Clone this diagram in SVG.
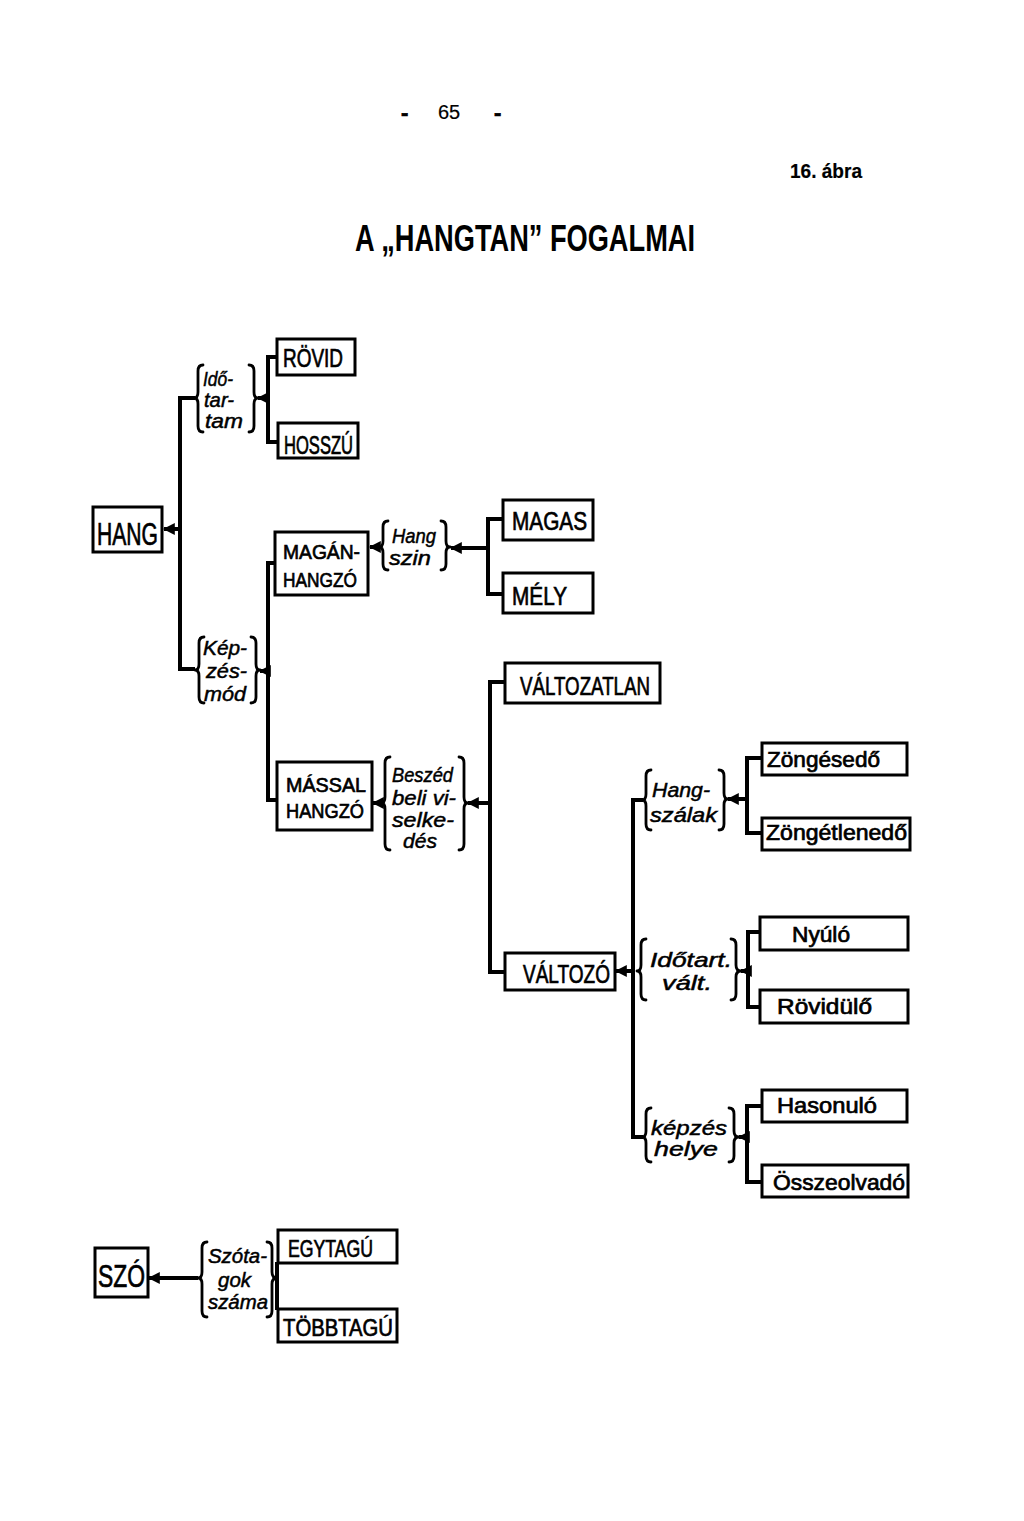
<svg xmlns="http://www.w3.org/2000/svg" width="1024" height="1521" viewBox="0 0 1024 1521">
<style>
.bx{fill:#fff;stroke:#000;stroke-width:3}
.ln{fill:none;stroke:#000;stroke-width:4}
.br{fill:none;stroke:#000;stroke-width:2.8;stroke-linecap:round;stroke-linejoin:round}
.t{font-family:"Liberation Sans",Arial,sans-serif;fill:#000;stroke:#000;stroke-width:0.7}
.it{font-family:"Liberation Sans",Arial,sans-serif;font-style:italic;fill:#000;stroke:#000;stroke-width:0.5;font-size:21px}
</style>
<defs>
<marker id="ah" markerUnits="userSpaceOnUse" markerWidth="12" markerHeight="12" viewBox="0 0 10 10" refX="9" refY="5" orient="auto">
<path d="M0,0 L10,5 L0,10 z" fill="#000"/>
</marker>
</defs>
<rect width="1024" height="1521" fill="#fff"/>

<g id="header">
<text class="t" x="401" y="120" font-size="22" font-weight="bold">-</text>
<text class="t" x="438" y="119" font-size="20" style="stroke-width:0.2">65</text>
<text class="t" x="494" y="120" font-size="22" font-weight="bold">-</text>
<text class="t" x="790" y="178" font-size="21" font-weight="bold" style="stroke-width:0.2" textLength="72" lengthAdjust="spacingAndGlyphs">16. ábra</text>
<text class="t" x="355" y="251" font-size="36" font-weight="bold" style="stroke-width:0" textLength="340" lengthAdjust="spacingAndGlyphs">A „HANGTAN” FOGALMAI</text>
</g>

<g id="connectors">
<path class="ln" d="M195,398 H180 V669 H195"/>
<line class="ln" x1="180" y1="529" x2="164" y2="529" marker-end="url(#ah)"/>
<path class="ln" d="M277,357 H268 V442 H278"/>
<line class="ln" x1="268" y1="398" x2="258" y2="398" marker-end="url(#ah)"/>
<path class="ln" d="M275,563 H268 V800 H277"/>
<line class="ln" x1="268" y1="671" x2="260" y2="671" marker-end="url(#ah)"/>
<line class="ln" x1="380" y1="547" x2="370" y2="547" marker-end="url(#ah)"/>
<path class="ln" d="M503,519 H488 V594 H503"/>
<line class="ln" x1="488" y1="548" x2="451" y2="548" marker-end="url(#ah)"/>
<line class="ln" x1="382" y1="803" x2="373" y2="803" marker-end="url(#ah)"/>
<path class="ln" d="M505,682 H490 V972 H505"/>
<line class="ln" x1="490" y1="803" x2="468" y2="803" marker-end="url(#ah)"/>
<path class="ln" d="M643,800 H633 V1137 H643"/>
<line class="ln" x1="633" y1="971" x2="616" y2="971" marker-end="url(#ah)"/>
<path class="ln" d="M762,758 H747 V833 H762"/>
<line class="ln" x1="747" y1="799" x2="728" y2="799" marker-end="url(#ah)"/>
<path class="ln" d="M760,932 H748 V1007 H760"/>
<line class="ln" x1="748" y1="971" x2="741" y2="971" marker-end="url(#ah)"/>
<path class="ln" d="M762,1106 H747 V1182 H762"/>
<line class="ln" x1="747" y1="1137" x2="739" y2="1137" marker-end="url(#ah)"/>
<line class="ln" x1="198" y1="1278" x2="149" y2="1278" marker-end="url(#ah)"/>
<line class="ln" x1="277" y1="1262" x2="277" y2="1310"/>
</g>

<g id="braces">
<path class="br" d="M203,365 Q198,365 198,371 V392 Q198,398 194,398 Q198,398 198,404 V426 Q198,432 203,432"/>
<path class="br" d="M249,365 Q254,365 254,371 V392 Q254,398 258,398 Q254,398 254,404 V426 Q254,432 249,432"/>
<path class="br" d="M204,637 Q199,637 199,643 V664 Q199,670 195,670 Q199,670 199,676 V697 Q199,703 204,703"/>
<path class="br" d="M251,637 Q256,637 256,643 V664 Q256,670 260,670 Q256,670 256,676 V697 Q256,703 251,703"/>
<path class="br" d="M388,521 Q383,521 383,527 V541 Q383,547 379,547 Q383,547 383,553 V564 Q383,570 388,570"/>
<path class="br" d="M441,521 Q446,521 446,527 V541 Q446,547 450,547 Q446,547 446,553 V564 Q446,570 441,570"/>
<path class="br" d="M390,757 Q385,757 385,763 V797 Q385,803 381,803 Q385,803 385,809 V844 Q385,850 390,850"/>
<path class="br" d="M459,757 Q464,757 464,763 V797 Q464,803 468,803 Q464,803 464,809 V844 Q464,850 459,850"/>
<path class="br" d="M651,770 Q646,770 646,776 V794 Q646,800 642,800 Q646,800 646,806 V824 Q646,830 651,830"/>
<path class="br" d="M719,770 Q724,770 724,776 V793 Q724,799 728,799 Q724,799 724,805 V824 Q724,830 719,830"/>
<path class="br" d="M646,939 Q641,939 641,945 V965 Q641,971 637,971 Q641,971 641,977 V994 Q641,1000 646,1000"/>
<path class="br" d="M731,939 Q736,939 736,945 V965 Q736,971 741,971 Q736,971 736,977 V994 Q736,1000 731,1000"/>
<path class="br" d="M651,1108 Q646,1108 646,1114 V1131 Q646,1137 642,1137 Q646,1137 646,1143 V1156 Q646,1162 651,1162"/>
<path class="br" d="M729,1108 Q734,1108 734,1114 V1131 Q734,1137 739,1137 Q734,1137 734,1143 V1156 Q734,1162 729,1162"/>
<path class="br" d="M207,1242 Q202,1242 202,1248 V1272 Q202,1278 198,1278 Q202,1278 202,1284 V1311 Q202,1317 207,1317"/>
<path class="br" d="M267,1242 Q272,1242 272,1248 V1272 Q272,1278 277,1278 Q272,1278 272,1284 V1311 Q272,1317 267,1317"/>
</g>

<g id="lbl-idotartam">
<text class="it" x="203" y="386" textLength="30" lengthAdjust="spacingAndGlyphs">Idő-</text>
<text class="it" x="204" y="407" textLength="30" lengthAdjust="spacingAndGlyphs">tar-</text>
<text class="it" x="205" y="428" textLength="38" lengthAdjust="spacingAndGlyphs">tam</text>
</g>
<g id="lbl-kepzesmod">
<text class="it" x="203" y="655" textLength="44" lengthAdjust="spacingAndGlyphs">Kép-</text>
<text class="it" x="206" y="678" textLength="41" lengthAdjust="spacingAndGlyphs">zés-</text>
<text class="it" x="204" y="701" textLength="42" lengthAdjust="spacingAndGlyphs">mód</text>
</g>
<g id="lbl-hangszin">
<text class="it" x="392" y="543" textLength="44" lengthAdjust="spacingAndGlyphs">Hang</text>
<text class="it" x="389" y="565" textLength="42" lengthAdjust="spacingAndGlyphs">szin</text>
</g>
<g id="lbl-beszedbeli">
<text class="it" x="392" y="782" font-size="22" textLength="61" lengthAdjust="spacingAndGlyphs">Beszéd</text>
<text class="it" x="392" y="805" font-size="22" textLength="64" lengthAdjust="spacingAndGlyphs">beli vi-</text>
<text class="it" x="392" y="827" font-size="22" textLength="62" lengthAdjust="spacingAndGlyphs">selke-</text>
<text class="it" x="403" y="848" font-size="22" textLength="34" lengthAdjust="spacingAndGlyphs">dés</text>
</g>
<g id="lbl-hangszalak">
<text class="it" x="652" y="797" textLength="58" lengthAdjust="spacingAndGlyphs">Hang-</text>
<text class="it" x="650" y="822" textLength="67" lengthAdjust="spacingAndGlyphs">szálak</text>
</g>
<g id="lbl-idotartvalt">
<text class="it" x="650" y="967" textLength="82" lengthAdjust="spacingAndGlyphs">Időtart.</text>
<text class="it" x="662" y="990" textLength="50" lengthAdjust="spacingAndGlyphs">vált.</text>
</g>
<g id="lbl-kepzeshelye">
<text class="it" x="651" y="1135" textLength="76" lengthAdjust="spacingAndGlyphs">képzés</text>
<text class="it" x="654" y="1156" textLength="64" lengthAdjust="spacingAndGlyphs">helye</text>
</g>
<g id="lbl-szotagok">
<text class="it" x="208" y="1263" textLength="59" lengthAdjust="spacingAndGlyphs">Szóta-</text>
<text class="it" x="218" y="1287" textLength="33" lengthAdjust="spacingAndGlyphs">gok</text>
<text class="it" x="208" y="1309" textLength="60" lengthAdjust="spacingAndGlyphs">száma</text>
</g>

<g id="n-hang"><rect class="bx" x="93" y="507" width="69" height="45"/><text class="t" x="97" y="545" font-size="32" textLength="61" lengthAdjust="spacingAndGlyphs">HANG</text></g>
<g id="n-rovid"><rect class="bx" x="277" y="339" width="78" height="36"/><text class="t" x="283" y="367" font-size="25" textLength="60" lengthAdjust="spacingAndGlyphs">RÖVID</text></g>
<g id="n-hosszu"><rect class="bx" x="278" y="423" width="80" height="35"/><text class="t" x="284" y="454" font-size="25" textLength="69" lengthAdjust="spacingAndGlyphs">HOSSZÚ</text></g>
<g id="n-maganhangzo"><rect class="bx" x="275" y="532" width="93" height="63"/><text class="t" x="283" y="559" font-size="21" textLength="77" lengthAdjust="spacingAndGlyphs">MAGÁN-</text><text class="t" x="283" y="587" font-size="21" textLength="74" lengthAdjust="spacingAndGlyphs">HANGZÓ</text></g>
<g id="n-magas"><rect class="bx" x="503" y="500" width="90" height="40"/><text class="t" x="512" y="530" font-size="26" textLength="75" lengthAdjust="spacingAndGlyphs">MAGAS</text></g>
<g id="n-mely"><rect class="bx" x="503" y="573" width="90" height="40"/><text class="t" x="512" y="605" font-size="26" textLength="55" lengthAdjust="spacingAndGlyphs">MÉLY</text></g>
<g id="n-valtozatlan"><rect class="bx" x="505" y="663" width="155" height="40"/><text class="t" x="520" y="695" font-size="26" textLength="130" lengthAdjust="spacingAndGlyphs">VÁLTOZATLAN</text></g>
<g id="n-massalhangzo"><rect class="bx" x="277" y="762" width="95" height="68"/><text class="t" x="286" y="792" font-size="21" textLength="80" lengthAdjust="spacingAndGlyphs">MÁSSAL</text><text class="t" x="286" y="818" font-size="21" textLength="78" lengthAdjust="spacingAndGlyphs">HANGZÓ</text></g>
<g id="n-valtozo"><rect class="bx" x="505" y="953" width="110" height="37"/><text class="t" x="523" y="983" font-size="25" textLength="87" lengthAdjust="spacingAndGlyphs">VÁLTOZÓ</text></g>
<g id="n-zongesedo"><rect class="bx" x="762" y="743" width="145" height="32"/><text class="t" x="767" y="767" font-size="22" textLength="113" lengthAdjust="spacingAndGlyphs">Zöngésedő</text></g>
<g id="n-zongetlenedo"><rect class="bx" x="762" y="818" width="148" height="32"/><text class="t" x="766" y="840" font-size="22" textLength="141" lengthAdjust="spacingAndGlyphs">Zöngétlenedő</text></g>
<g id="n-nyulo"><rect class="bx" x="760" y="917" width="148" height="33"/><text class="t" x="792" y="942" font-size="22" textLength="58" lengthAdjust="spacingAndGlyphs">Nyúló</text></g>
<g id="n-rovidulo"><rect class="bx" x="760" y="990" width="148" height="33"/><text class="t" x="777" y="1014" font-size="22" textLength="95" lengthAdjust="spacingAndGlyphs">Rövidülő</text></g>
<g id="n-hasonulo"><rect class="bx" x="762" y="1090" width="145" height="32"/><text class="t" x="777" y="1113" font-size="22" textLength="100" lengthAdjust="spacingAndGlyphs">Hasonuló</text></g>
<g id="n-osszeolvado"><rect class="bx" x="762" y="1165" width="146" height="32"/><text class="t" x="773" y="1190" font-size="22" textLength="132" lengthAdjust="spacingAndGlyphs">Összeolvadó</text></g>
<g id="n-szo"><rect class="bx" x="95" y="1248" width="53" height="49"/><text class="t" x="98" y="1287" font-size="32" textLength="47" lengthAdjust="spacingAndGlyphs">SZÓ</text></g>
<g id="n-egytagu"><rect class="bx" x="278" y="1230" width="119" height="33"/><text class="t" x="288" y="1257" font-size="23" textLength="85" lengthAdjust="spacingAndGlyphs">EGYTAGÚ</text></g>
<g id="n-tobbtagu"><rect class="bx" x="278" y="1309" width="119" height="33"/><text class="t" x="283" y="1336" font-size="23" textLength="110" lengthAdjust="spacingAndGlyphs">TÖBBTAGÚ</text></g>
</svg>
